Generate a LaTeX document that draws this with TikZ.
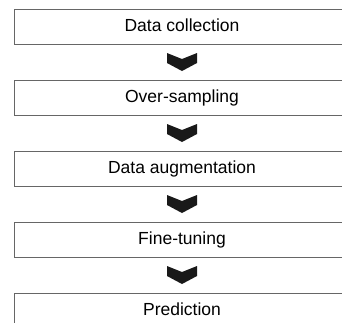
\documentclass[tikz,border=0pt]{standalone}
\usepackage{fontspec}
\setmainfont{Liberation Sans}
\usetikzlibrary{calc}
\begin{document}
\begin{tikzpicture}[x=1pt,y=-1pt]

	\def \mid{182}
	\tikzstyle{s-node}=[draw=black!60,line width=0.8pt,text height=12pt,text depth=3pt,text centered,minimum width=336pt,minimum height=35pt,inner sep=0pt,font=\fontsize{17.5}{20}\selectfont]
	\tikzstyle{chev}=[fill=black!90,draw=none]
	\useasboundingbox (0,0) rectangle (342,322);
	\clip (0,0) rectangle (342,322);

	% steps
	\node[s-node] 	(s0)	at (\mid,26.5)		{Data collection};
	\node[s-node] 	(s1)	at (\mid,97.5)		{Over-sampling};
	\node[s-node] 	(s2)	at (\mid,168.5)		{Data augmentation};
	\node[s-node] 	(s3)	at (\mid,239.5)		{Fine-tuning};
	\node[s-node] 	(s4)	at (\mid,310.5)		{Prediction};

	% chevrons
	\foreach \a/\b in {s0/s1,s1/s2,s2/s3,s3/s4}{
		\coordinate (m) at ($(\a.south)!0.5!(\b.north)$);
		\fill[chev] ($(m)+(-15,-9)$) -- ($(m)+(0,-3)$) -- ($(m)+(15,-9)$) -- ($(m)+(15,1)$) -- ($(m)+(0,9)$) -- ($(m)+(-15,1)$) -- cycle;
	}
\end{tikzpicture}
\end{document}
